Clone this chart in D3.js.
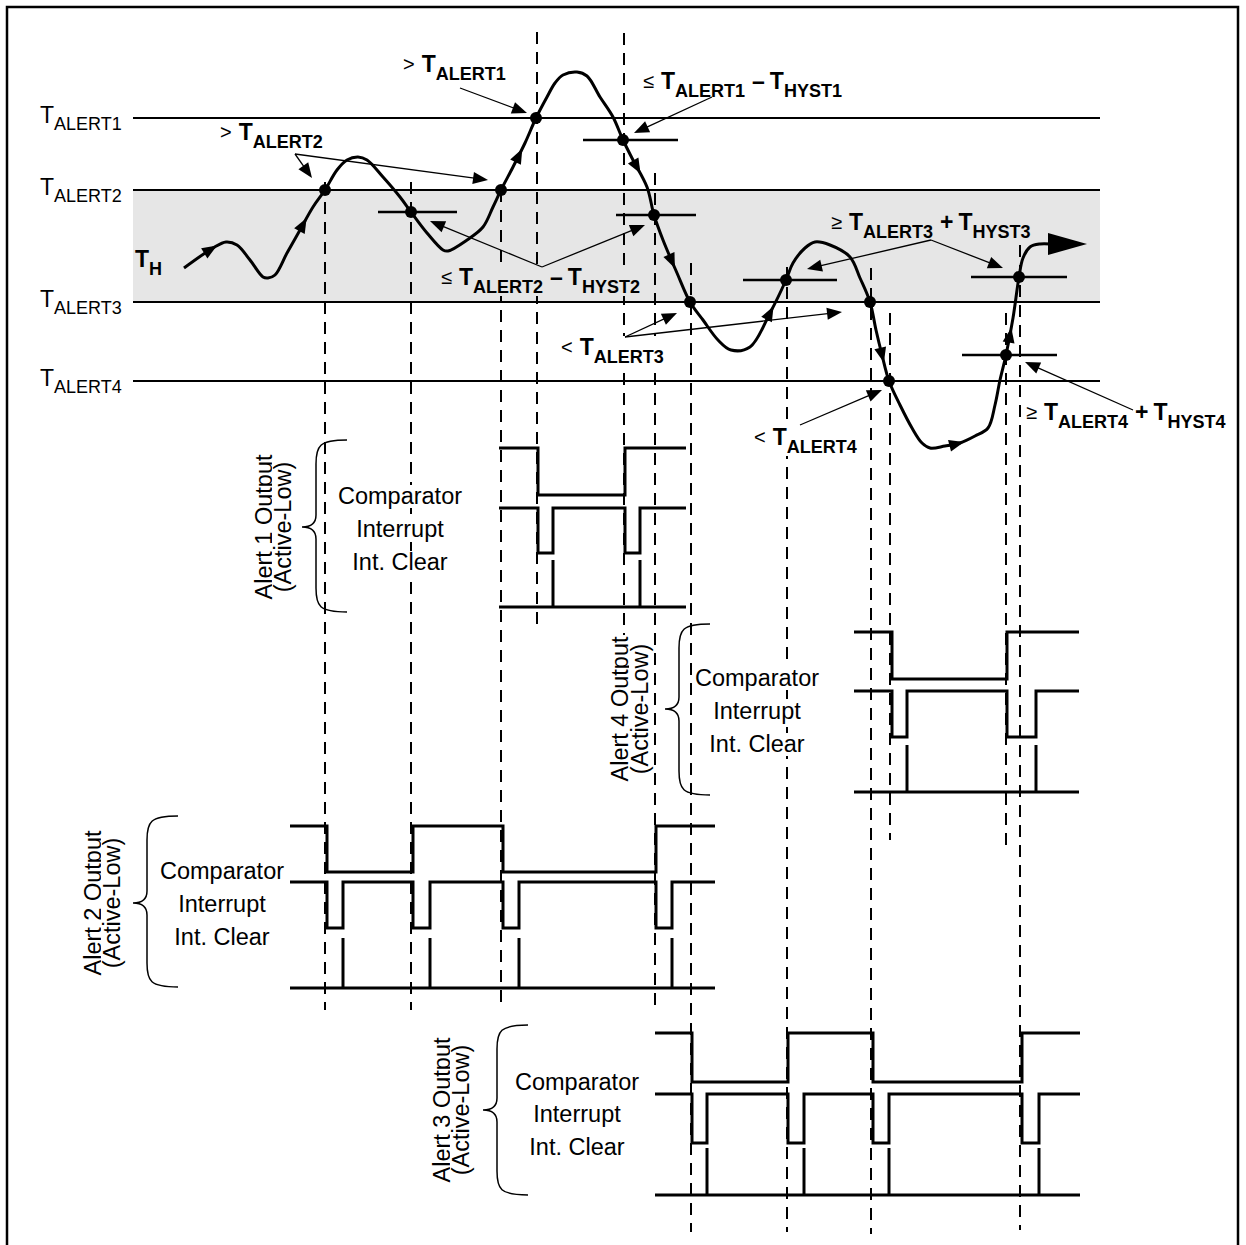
<!DOCTYPE html>
<html>
<head>
<meta charset="utf-8">
<script src="https://cdn.jsdelivr.net/npm/d3@7"></script>
<style>
  body { margin: 0; background: #fff; }
  svg { display: block; font-family: "Liberation Sans", Arial, sans-serif; }
</style>
</head>
<body>
<div id="chart"></div>
<script>
// ---- data (time units along x, temperature units along y) ----
const thresholdNames = ['ALERT1', 'ALERT2', 'ALERT3', 'ALERT4'];
const thresholdValues = [282, 210, 98, 19];
const bandRange = [98, 210]; // shaded window between T_ALERT3 and T_ALERT2

// T_H trace
const tempTrace = [
  [51,132],[80,152],[93,158],[104,155],[117,140],[130,123],[135,122],[142,125],[154,147],
  [167,170],[180,193],[192,210],[204,230],[214,240],[225,243],[234,240],[250,223],[267,203],
  [278,188],[294,167],[310,150],[315,149],[334,160],[350,173],[360,193],[368,210],[380,233],
  [392,257],[403,282],[414,303],[422,317],[430,325],[444,328],[454,324],[467,303],[480,283],
  [490,260],[500,240],[514,213],[521,185],[530,160],[544,127],[557,98],[570,80],[585,60],
  [598,50],[617,53],[637,87],[653,120],[660,137],[672,152],[682,158],[697,155],[717,143],
  [727,122],[737,98],[743,70],[749,45],[756,19],[767,-5],[779,-28],[789,-43],[797,-48],
  [812,-46],[827,-43],[842,-36],[855,-28],[862,-5],[867,20],[873,45],[880,82],[886,123],
  [890,142],[897,153],[907,156],[917,156]
];
const traceEndArrow = [915, 954, 156];

// threshold crossing points on the trace
const crossings = [[192,210],[278,188],[368,210],[403,282],[490,260],[521,185],[557,98],
  [653,120],[737,98],[756,19],[873,45],[886,123]];

// hysteresis marks: [temperature, from time, to time]
const hystMarks = [[188,245,324],[260,450,545],[185,483,563],[120,610,704],[45,829,924],[123,838,934]];

// direction arrows on the trace (times)
const traceArrowTimes = [78, 170, 386, 504, 539, 637, 749, 824, 877];

// dashed event guides: time, top temperature, bottom (px)
const guideTimes = [192, 278, 368, 404, 491, 522, 558, 654, 738, 757, 873, 887];
const guideTops = [218, 218, 210, 368, 367, 227, 137, 133, 132, 87, 87, 155];
const guideBottoms = [1010, 1010, 1010, 630, 636, 1010, 1232, 1232, 1234, 840, 850, 1230];

// alert outputs: event times and interrupt pulse widths
const alert1Events = [405, 492];
const alert1Pulse = [15, 15];
const alert2Events = [194, 280, 370, 523];
const alert2Pulse = [16, 17, 16, 16];
const alert3Events = [559, 655, 740, 889];
const alert3Pulse = [15, 16, 16, 17];
const alert4Events = [759, 874];
const alert4Pulse = [15, 29];
const signalNames = ['Comparator', 'Interrupt', 'Int. Clear'];

// annotations
const annotations = [
  { x: 403, y: 72,  parts: [['>','sym'],['T','T'],['ALERT1','sub']],
    arrows: [[[327,312],[394,287]]] },
  { x: 220, y: 140, parts: [['>','sym'],['T','T'],['ALERT2','sub']],
    arrows: [[[162,246],[179,222]], [[162,246],[355,220]]] },
  { x: 643, y: 89,  parts: [['≤','sym'],['T','T'],['ALERT1','sub'],['–','op'],['T','T'],['HYST1','sub']],
    arrows: [[[579,303],[501,267]]] },
  { x: 441, y: 285, parts: [['≤','sym'],['T','T'],['ALERT2','sub'],['–','op'],['T','T'],['HYST2','sub']],
    arrows: [[[409,133],[297,179]], [[409,133],[512,175]]] },
  { x: 561, y: 355, parts: [['<','sym'],['T','T'],['ALERT3','sub']],
    arrows: [[[492,63],[544,87]], [[492,63],[709,88]]] },
  { x: 831, y: 230, parts: [['≥','sym'],['T','T'],['ALERT3','sub'],['+','op'],['T','T'],['HYST3','sub']],
    arrows: [[[798,160],[674,131]], [[798,160],[870,132]]] },
  { x: 754, y: 445, parts: [['<','sym'],['T','T'],['ALERT4','sub']],
    arrows: [[[667,-25],[749,10]]] },
  { x: 1026, y: 420, parts: [['≥','sym'],['T','T'],['ALERT4','sub'],['+','op'],['T','T'],['HYST4','sub']],
    arrows: [[[1000,-10],[892,38]]] }
];

class TimingDiagram {
  constructor(_config) {
    this.config = {
      parentElement: _config.parentElement,
      containerWidth: _config.containerWidth || 1246,
      containerHeight: _config.containerHeight || 1245
    };
    this.initVis();
  }

  initVis() {
    let vis = this;
    vis.svg = d3.select(vis.config.parentElement).append('svg')
      .attr('width', vis.config.containerWidth)
      .attr('height', vis.config.containerHeight);

    vis.x = d3.scaleLinear().domain([0, 967]).range([133, 1100]);
    vis.y = d3.scaleLinear().domain([0, 400]).range([400, 0]);

    // layout of each alert output block (pixels)
    vis.rows = [
      { name: 'Alert 1 Output', events: alert1Events, pulse: alert1Pulse, span: [366, 553],
        levels: [448, 495, 508, 553, 560, 607], brace: [302, 440, 612, 527], label: [272, 291], text: [400, 504, 537, 570] },
      { name: 'Alert 4 Output', events: alert4Events, pulse: alert4Pulse, span: [721, 946],
        levels: [632, 679, 691, 737, 745, 792], brace: [665, 624, 795, 709], label: [628, 648], text: [757, 686, 719, 752] },
      { name: 'Alert 2 Output', events: alert2Events, pulse: alert2Pulse, span: [157, 582],
        levels: [826, 872, 882, 928, 938, 988], brace: [133, 816, 987, 903], label: [101, 120], text: [222, 879, 912, 945] },
      { name: 'Alert 3 Output', events: alert3Events, pulse: alert3Pulse, span: [522, 947],
        levels: [1033, 1082, 1094, 1143, 1148, 1195], brace: [483, 1025, 1195, 1110], label: [450, 469], text: [577, 1090, 1122, 1155] }
    ];

    vis.renderVis();
  }

  arrowHead(g, tip, angle, len, half) {
    const ca = Math.cos(angle), sa = Math.sin(angle);
    const bx = tip[0] - len * ca, by = tip[1] - len * sa;
    const pts = [tip, [bx - half * sa, by + half * ca], [bx + half * sa, by - half * ca]];
    g.append('path').attr('d', 'M' + pts.map(p => p.join(',')).join('L') + 'Z').attr('fill', '#000');
  }

  // paint a box behind a text so the dashed guides stop at the words
  knockout(textSel, fill) {
    const node = textSel.node();
    const bb = node.getBBox();
    d3.select(node.parentNode).insert('rect', () => node)
      .attr('x', bb.x - 1).attr('y', bb.y + 2)
      .attr('width', bb.width + 2).attr('height', bb.height - 3)
      .attr('fill', fill);
  }

  renderVis() {
    let vis = this;
    const x = vis.x, y = vis.y;

    // frame
    vis.svg.append('rect')
      .attr('x', 7).attr('y', 7).attr('width', 1231).attr('height', 1260)
      .attr('fill', 'none').attr('stroke', '#000').attr('stroke-width', 2.5);

    // shaded band
    vis.svg.append('rect')
      .attr('x', x(0)).attr('y', y(bandRange[1]))
      .attr('width', x(967) - x(0)).attr('height', y(bandRange[0]) - y(bandRange[1]))
      .attr('fill', '#e6e6e6');

    // threshold lines + labels
    vis.svg.selectAll('.thr').data(thresholdValues).enter().append('line')
      .attr('x1', x(0)).attr('x2', x(967))
      .attr('y1', d => y(d)).attr('y2', d => y(d))
      .attr('stroke', '#000').attr('stroke-width', 2);

    const thrLabels = vis.svg.selectAll('.thrlab').data(thresholdValues).enter().append('text')
      .attr('x', 40).attr('y', d => y(d) + 5);
    thrLabels.append('tspan').attr('font-size', 23).text('T');
    thrLabels.append('tspan').attr('font-size', 18).attr('dy', 7).text((d, i) => thresholdNames[i]);

    // dashed guides
    vis.svg.selectAll('.guide').data(guideTimes).enter().append('line')
      .attr('x1', d => x(d)).attr('x2', d => x(d))
      .attr('y1', (d, i) => y(guideTops[i])).attr('y2', (d, i) => guideBottoms[i])
      .attr('stroke', '#000').attr('stroke-width', 2).attr('stroke-dasharray', '12,8');

    // T_H label
    const th = vis.svg.append('text').attr('x', 135).attr('y', 267).attr('font-weight', 'bold');
    th.append('tspan').attr('font-size', 23).text('T');
    th.append('tspan').attr('font-size', 18).attr('dy', 8).text('H');

    // annotation texts (with knockout so guides break behind them)
    const bandTop = y(bandRange[1]), bandBot = y(bandRange[0]);
    annotations.forEach(a => {
      const t = vis.svg.append('text').attr('x', a.x).attr('y', a.y).attr('font-weight', 'bold');
      a.parts.forEach((p, k) => {
        const prev = k > 0 ? a.parts[k - 1][1] : null;
        const ts = t.append('tspan').text(p[0]);
        if (p[1] === 'sym') {
          ts.attr('font-size', 20).attr('font-weight', 'normal').attr('y', a.y - 1);
        } else if (p[1] === 'T') {
          ts.attr('font-size', 23).attr('y', a.y);
          if (prev === 'sym') ts.attr('dx', 7);
          if (prev === 'op') ts.attr('dx', 5);
        } else if (p[1] === 'sub') {
          ts.attr('font-size', 18).attr('y', a.y + 8);
        } else {
          ts.attr('font-size', 23).attr('y', a.y).attr('dx', 7);
        }
      });
      const inBand = a.y > bandTop && a.y < bandBot;
      vis.knockout(t, inBand ? '#e6e6e6' : '#fff');
    });

    // hysteresis marks
    vis.svg.selectAll('.hyst').data(hystMarks).enter().append('line')
      .attr('x1', d => x(d[1])).attr('x2', d => x(d[2]))
      .attr('y1', d => y(d[0])).attr('y2', d => y(d[0]))
      .attr('stroke', '#000').attr('stroke-width', 2.5);

    // temperature trace
    const line = d3.line().x(d => x(d[0])).y(d => y(d[1])).curve(d3.curveCatmullRom.alpha(0.5));
    const tracePath = vis.svg.append('path').datum(tempTrace)
      .attr('d', line).attr('fill', 'none').attr('stroke', '#000').attr('stroke-width', 3);

    const arrowsG = vis.svg.append('g');
    const node = tracePath.node();
    const total = node.getTotalLength();
    const samples = d3.range(0, total, 1).map(l => node.getPointAtLength(l));
    traceArrowTimes.forEach(t => {
      const px = x(t);
      let i = samples.findIndex(p => p.x >= px);
      i = Math.max(3, Math.min(samples.length - 4, i));
      const a = samples[i - 3], b = samples[i + 3];
      const ang = Math.atan2(b.y - a.y, b.x - a.x);
      const p = samples[i];
      vis.arrowHead(arrowsG, [p.x + 7 * Math.cos(ang), p.y + 7 * Math.sin(ang)], ang, 15, 6);
    });
    // big end arrow
    const e = traceEndArrow;
    arrowsG.append('path')
      .attr('d', `M${x(e[1])},${y(e[2])}L${x(e[0])},${y(e[2]) - 11}L${x(e[0])},${y(e[2]) + 11}Z`)
      .attr('fill', '#000');

    // crossing dots
    vis.svg.selectAll('.dot').data(crossings).enter().append('circle')
      .attr('cx', d => x(d[0])).attr('cy', d => y(d[1])).attr('r', 6).attr('fill', '#000');

    // annotation arrows
    annotations.forEach(a => {
      a.arrows.forEach(ar => {
        const p0 = [x(ar[0][0]), y(ar[0][1])], p1 = [x(ar[1][0]), y(ar[1][1])];
        const ang = Math.atan2(p1[1] - p0[1], p1[0] - p0[0]);
        vis.svg.append('line')
          .attr('x1', p0[0]).attr('y1', p0[1])
          .attr('x2', p1[0] - 10 * Math.cos(ang)).attr('y2', p1[1] - 10 * Math.sin(ang))
          .attr('stroke', '#000').attr('stroke-width', 1.3);
        vis.arrowHead(vis.svg, p1, ang, 15, 6);
      });
    });

    // alert output blocks
    const step = d3.line().x(d => x(d[0])).curve(d3.curveStepAfter);
    vis.rows.forEach(r => {
      const g = vis.svg.append('g');
      const lv = r.levels;
      // comparator
      const comp = [[r.span[0], 1]];
      r.events.forEach((ev, i) => comp.push([ev, i % 2 === 0 ? 0 : 1]));
      comp.push([r.span[1], r.events.length % 2 === 0 ? 1 : 0]);
      const cy = d3.scaleLinear().domain([0, 1]).range([lv[1], lv[0]]);
      g.append('path').datum(comp).attr('d', step.y(d => cy(d[1])))
        .attr('fill', 'none').attr('stroke', '#000').attr('stroke-width', 3);
      // interrupt
      const intr = [[r.span[0], 1]];
      r.events.forEach((ev, i) => { intr.push([ev, 0]); intr.push([ev + r.pulse[i], 1]); });
      intr.push([r.span[1], 1]);
      const iy = d3.scaleLinear().domain([0, 1]).range([lv[3], lv[2]]);
      g.append('path').datum(intr).attr('d', step.y(d => iy(d[1])))
        .attr('fill', 'none').attr('stroke', '#000').attr('stroke-width', 3);
      // int clear
      g.append('line').attr('x1', x(r.span[0])).attr('x2', x(r.span[1]))
        .attr('y1', lv[5]).attr('y2', lv[5]).attr('stroke', '#000').attr('stroke-width', 3);
      g.selectAll('.clr').data(r.events).enter().append('line')
        .attr('x1', (d, i) => x(d + r.pulse[i])).attr('x2', (d, i) => x(d + r.pulse[i]))
        .attr('y1', lv[4]).attr('y2', lv[5]).attr('stroke', '#000').attr('stroke-width', 3);

      // brace
      const [tx, top, bot, mid] = r.brace;
      const vx = tx + 14, ex = tx + 45;
      g.append('path')
        .attr('d', `M${ex},${top} C${vx + 3},${top} ${vx},${top + 6} ${vx},${top + 24} L${vx},${mid - 12}` +
          ` C${vx},${mid - 4} ${vx - 5},${mid} ${tx},${mid} C${vx - 5},${mid} ${vx},${mid + 4} ${vx},${mid + 12}` +
          ` L${vx},${bot - 24} C${vx},${bot - 6} ${vx + 3},${bot} ${ex},${bot}`)
        .attr('fill', 'none').attr('stroke', '#000').attr('stroke-width', 1.5);

      // rotated label
      [r.name, '(Active-Low)'].forEach((s, i) => {
        const lg = g.append('g').attr('transform', `translate(${r.label[i]},${mid}) rotate(-90)`);
        const lt = lg.append('text').attr('text-anchor', 'middle').attr('font-size', 23.5).text(s);
        vis.knockout(lt, '#fff');
      });

      // signal names
      signalNames.forEach((s, i) => {
        const st = g.append('text').attr('x', r.text[0]).attr('y', r.text[i + 1])
          .attr('text-anchor', 'middle').attr('font-size', 23.5).text(s);
        vis.knockout(st, '#fff');
      });
    });
  }
}

new TimingDiagram({ parentElement: '#chart' });
</script>
</body>
</html>
